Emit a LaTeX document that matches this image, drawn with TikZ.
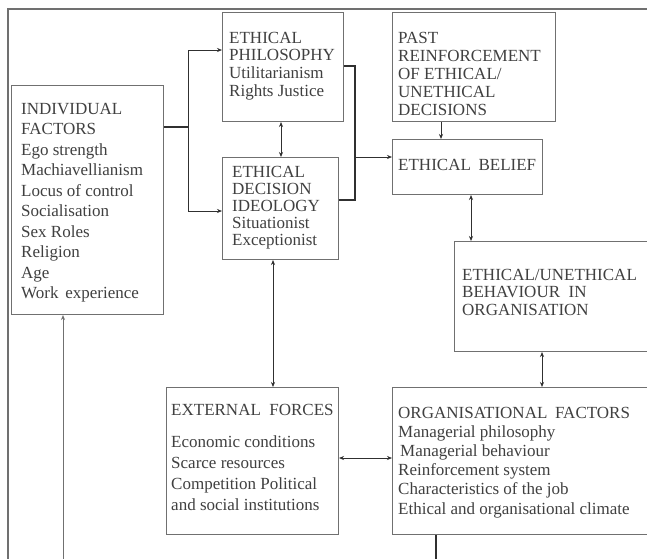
\documentclass[tikz,border=0pt]{standalone}
\usepackage{fontspec}
\setmainfont{Liberation Serif}
\usetikzlibrary{arrows.meta}
\definecolor{txt}{HTML}{404040}
\definecolor{ln}{HTML}{707070}
\definecolor{dk}{HTML}{303030}
\tikzset{
  box/.style={draw=ln, line width=1pt, inner sep=0pt, anchor=north west},
  lbl/.style={anchor=base west, inner sep=0pt, text=txt, font=\fontsize{17}{#1}\selectfont},
  conn/.style={draw=dk, line width=0.7pt, -{Stealth[length=5pt,width=4pt]}},
  dconn/.style={draw=dk, line width=0.7pt, {Stealth[length=5pt,width=4pt]}-{Stealth[length=5pt,width=4pt]}},
  heavy/.style={draw=dk, line width=1.5pt},
  frame/.style={draw=ln, line width=1.2pt},
}
\begin{document}
\begin{tikzpicture}[x=1pt,y=-1pt]
\useasboundingbox (0,0) rectangle (647,558);
\fill[white] (0,0) rectangle (647,558);
% outer frame
\draw[frame] (8,570) -- (8,9) -- (660,9);
% boxes
\node[box, minimum width=152pt, minimum height=229pt] (ind) at (11,85) {};
\node[box, minimum width=121pt, minimum height=109pt] (ep) at (222,12) {};
\node[box, minimum width=116pt, minimum height=102pt] (edi) at (222,157) {};
\node[box, minimum width=163pt, minimum height=109pt] (pr) at (392,12) {};
\node[box, minimum width=150pt, minimum height=55pt] (eb) at (392,139) {};
\node[box, minimum width=210pt, minimum height=110pt] (beh) at (454,241) {};
\node[box, minimum width=172pt, minimum height=147pt] (ext) at (166,387) {};
\node[box, minimum width=270pt, minimum height=147pt] (org) at (392,387) {};
% texts
\node[lbl=20.5] (tind) at (21,114) {\begin{tabular}[t]{@{}l@{}}INDIVIDUAL\\FACTORS\\Ego strength\\Machiavellianism\\Locus of control\\Socialisation\\Sex Roles\\Religion\\Age\\Work\hspace{0.4em}experience\end{tabular}};
\node[lbl=17.7] (tep) at (229,43) {\begin{tabular}[t]{@{}l@{}}ETHICAL\\PHILOSOPHY\\Utilitarianism\\Rights Justice\end{tabular}};
\node[lbl=17] (tedi) at (232,177) {\begin{tabular}[t]{@{}l@{}}ETHICAL\\DECISION\\IDEOLOGY\\Situationist\\Exceptionist\end{tabular}};
\node[lbl=18] (tpr) at (398,43) {\begin{tabular}[t]{@{}l@{}}PAST\\REINFORCEMENT\\OF ETHICAL/\\UNETHICAL\\DECISIONS\end{tabular}};
\node[lbl=18] (teb) at (398,170) {ETHICAL\hspace{0.45em}BELIEF};
\node[lbl=17.5] (tbeh) at (462,280) {\begin{tabular}[t]{@{}l@{}}ETHICAL/UNETHICAL\\BEHAVIOUR\hspace{0.5em}IN\\ORGANISATION\end{tabular}};
\node[lbl=21] (text) at (171,415) {EXTERNAL\hspace{0.5em}FORCES};
\node[lbl=21] (texti) at (171,447) {\begin{tabular}[t]{@{}l@{}}Economic conditions\\Scarce resources\\Competition Political\\and social institutions\end{tabular}};
\node[lbl=19.2] (torg) at (398,418) {\begin{tabular}[t]{@{}l@{}}ORGANISATIONAL\hspace{0.45em}FACTORS\\Managerial philosophy\\\hspace{2pt}Managerial behaviour\\Reinforcement system\\Characteristics of the job\\Ethical and organisational climate\end{tabular}};
% coordinates
\coordinate (j1) at (188,127);
\coordinate (a1) at (188,50);
\coordinate (a2) at (188,211);
\coordinate (k1) at (355,66);
\coordinate (k2) at (355,200);
\coordinate (k3) at (355,157);
\coordinate (x441) at (441,0);
\coordinate (x471) at (471,0);
\coordinate (x542) at (542,0);
\coordinate (x273) at (273,0);
\coordinate (x281) at (281,0);
\coordinate (y458) at (0,458);
\coordinate (b1) at (63,560);
\coordinate (b2) at (436,560);
% connectors
\draw[heavy] (ind.east |- j1) -- (j1);
\draw[draw=dk, line width=1pt] (a1) -- (a2);
\draw[conn] (a1) -- (ep.west |- a1);
\draw[conn] (a2) -- (edi.west |- a2);
\draw[dconn] (ep.south -| x281) -- (edi.north -| x281);
\draw[heavy] (ep.east |- k1) -- (k1) -- (k2) -- (edi.east |- k2);
\draw[conn] (k3) -- (eb.west |- k3);
\draw[conn] (pr.south -| x441) -- (eb.north -| x441);
\draw[dconn] (eb.south -| x471) -- (beh.north -| x471);
\draw[dconn] (beh.south -| x542) -- (org.north -| x542);
\draw[dconn] (edi.south -| x273) -- (ext.north -| x273);
\draw[dconn] (ext.east |- y458) -- (org.west |- y458);
\draw[heavy] (org.south -| b2) -- (b2);
\draw[conn, draw=ln, line width=1pt] (b1) -- (ind.south -| b1);
\end{tikzpicture}
\end{document}
